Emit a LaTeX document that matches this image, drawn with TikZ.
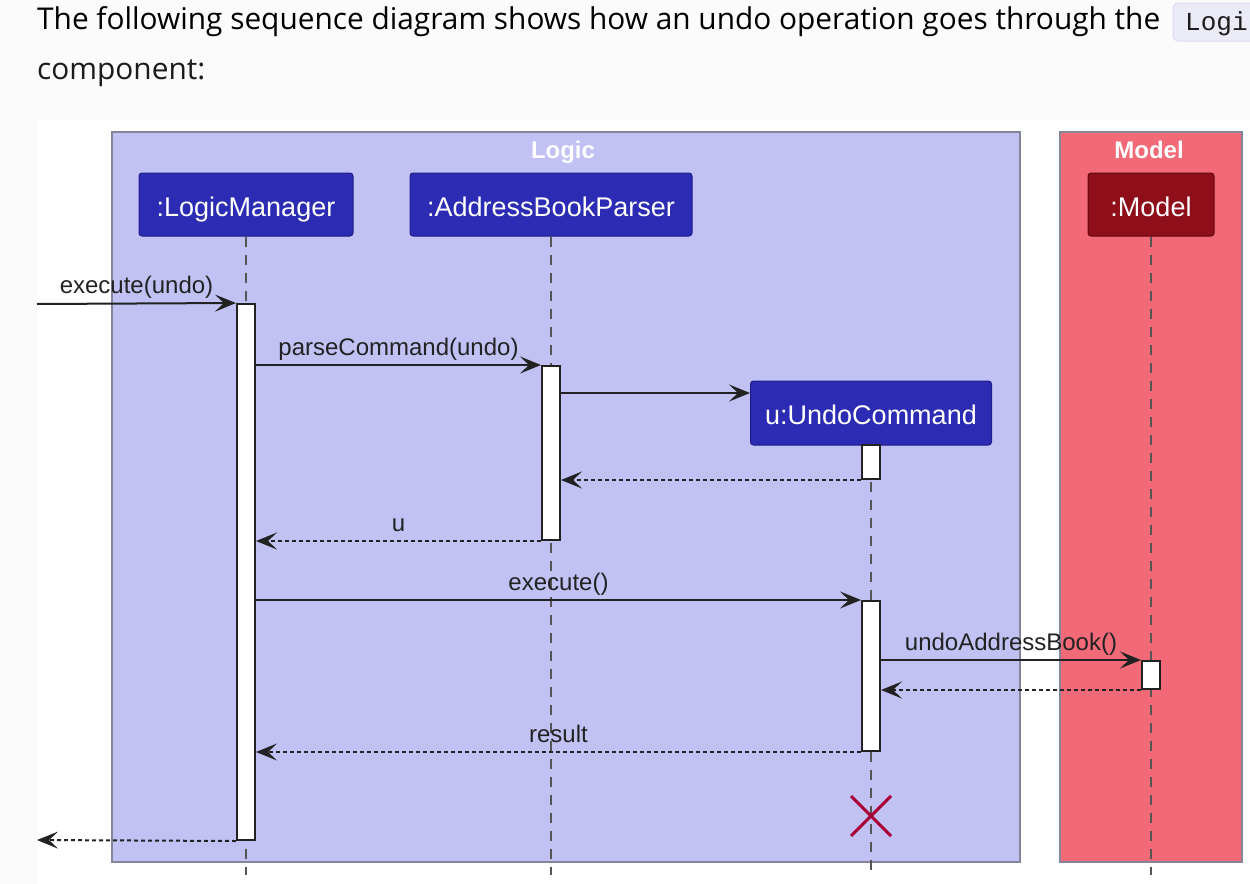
\documentclass[tikz,border=0pt]{standalone}
\usepackage{fontspec}
\setmainfont{Open Sans}
\newfontfamily\umlfont{Liberation Sans}
\newfontfamily\codefont{Liberation Mono}
\usetikzlibrary{arrows.meta}
\definecolor{pagebg}{HTML}{FBFBFB}
\definecolor{codebg}{HTML}{EBEBF8}
\definecolor{codeborder}{HTML}{DADAEE}
\definecolor{logicbg}{HTML}{C1C1F4}
\definecolor{modelbg}{HTML}{F26A77}
\definecolor{groupborder}{HTML}{85859A}
\definecolor{partblue}{HTML}{2B2BB4}
\definecolor{partblueborder}{HTML}{1E1E86}
\definecolor{partred}{HTML}{8E0E19}
\definecolor{partredborder}{HTML}{5E0A10}
\definecolor{msgcol}{HTML}{222222}
\definecolor{lifecol}{HTML}{555555}
\definecolor{xcol}{HTML}{A80036}
\definecolor{headtext}{HTML}{1B1B1B}
\newsavebox\hdbox
\tikzset{
  partbox/.style={fill=#1, rounded corners=3bp, text=white, inner sep=0pt,
    font=\umlfont\fontsize{27bp}{30bp}\selectfont, line width=1bp, minimum height=63bp,
    text height=26bp, text depth=3bp},
  actbar/.style={draw=msgcol, fill=white, line width=2bp, minimum width=18bp, inner sep=0pt},
  msg/.style={draw=msgcol, line width=2bp, -{Stealth[length=21bp,width=17bp,inset=9bp]}},
  retmsg/.style={msg, dash pattern=on 4bp off 3bp},
  lbl/.style={font=\umlfont\fontsize{24bp}{28bp}\selectfont, text=msgcol, inner sep=0pt, anchor=base, midway, yshift=10bp},
  lifeline/.style={draw=lifecol, line width=1.5bp, dash pattern=on 10bp off 8bp},
  grouptitle/.style={font=\umlfont\bfseries\fontsize{24bp}{28bp}\selectfont, text=white, anchor=base, inner sep=0pt},
  grouprect/.style={draw=groupborder, line width=1.5bp},
}
\begin{document}
\sbox\hdbox{\fontsize{30bp}{36bp}\selectfont The following sequence diagram shows how an undo operation goes through the}%
\pgfmathsetmacro\hs{1127.2/\the\wd\hdbox}%
\begin{tikzpicture}[x=1bp,y=-1bp]
\useasboundingbox (0,0) rectangle (1250,884);
\fill[pagebg] (0,0) rectangle (1250,884);
\fill[white] (37,120) rectangle (1250,884);

% header text
\node[anchor=base west, inner sep=0pt, text=headtext] (line1) at (37,29) {\scalebox{\hs}[1]{\usebox\hdbox}};
\node[anchor=base west, inner sep=0pt, text=headtext, font=\fontsize{30bp}{36bp}\selectfont] (line2) at (37,79) {\scalebox{\hs}[1]{component:}};
\begin{scope}
\clip (0,0) rectangle (1250,884);
\draw[fill=codebg, draw=codeborder, line width=1bp, rounded corners=5bp] (1173,3) rectangle (1275,41);
\end{scope}
\node[anchor=base west, inner sep=0pt, text=headtext, font=\codefont\fontsize{26bp}{30bp}\selectfont] (code) at (1185,30) {Logi};

% groups
\draw[grouprect, fill=logicbg] (112,132) rectangle (1020,862);
\draw[grouprect, fill=modelbg] (1060,132) rectangle (1242,862);
\node[grouptitle] (logictitle) at (563,158) {Logic};
\node[grouptitle] (modeltitle) at (1149,158) {Model};

% participants
\node[partbox=partblue, draw=partblueborder, minimum width=214bp] (LM) at (246,204.5) {:LogicManager};
\node[partbox=partblue, draw=partblueborder, minimum width=282bp] (ABP) at (551,204.5) {:AddressBookParser};
\node[partbox=partred, draw=partredborder, minimum width=126bp] (M) at (1151,204.5) {:Model};
\node[partbox=partblue, draw=partblueborder, minimum width=241bp, minimum height=64bp] (UC) at (871,413) {u:UndoCommand};

% lifeline ends
\coordinate (LMend) at (246,875);
\coordinate (ABPend) at (551,875);
\coordinate (UCend) at (871,875);
\coordinate (Mend) at (1151,875);
\draw[lifeline] (LM.south) -- (LMend);
\draw[lifeline] (ABP.south) -- (ABPend);
\draw[lifeline] (UC.south) -- (UCend);
\draw[lifeline] (M.south) -- (Mend);

% activation bars
\node[actbar, minimum height=536bp] (LMa) at (246,572) {};
\node[actbar, minimum height=174bp] (ABPa) at (551,453) {};
\node[actbar, minimum height=34bp] (UCa1) at (871,462) {};
\node[actbar, minimum height=150bp] (UCa2) at (871,676) {};
\node[actbar, minimum height=28bp] (Ma) at (1151,675) {};

% messages
\coordinate (in) at (37,304);
\coordinate (out) at (37,840);
\coordinate (createtip) at ([yshift=20bp]UC.west);
\draw[msg] (in) -- node[lbl] {execute(undo)} (LMa.north west);
\draw[msg] (LMa.east |- ABPa.north) -- node[lbl] {parseCommand(undo)} (ABPa.north west);
\draw[msg] (ABPa.east |- createtip) -- (createtip);
\draw[retmsg] (UCa1.south west) -- (ABPa.east |- UCa1.south);
\draw[retmsg] (ABPa.south west) -- node[lbl] {u} (LMa.east |- ABPa.south);
\draw[msg] (LMa.east |- UCa2.north) -- node[lbl] {execute()} (UCa2.north west);
\draw[msg] (UCa2.east |- Ma.north) -- node[lbl] {undoAddressBook()} (Ma.north west);
\draw[retmsg] (Ma.south west) -- (UCa2.east |- Ma.south);
\draw[retmsg] (UCa2.south west) -- node[lbl] {result} (LMa.east |- UCa2.south);
\draw[retmsg] (LMa.south west) -- (out);

% destroy
\coordinate (destroy) at (871,816);
\draw[xcol, line width=3bp] ([shift={(-20,-20)}]destroy) -- ([shift={(20,20)}]destroy)
  ([shift={(-20,20)}]destroy) -- ([shift={(20,-20)}]destroy);
\end{tikzpicture}
\end{document}
